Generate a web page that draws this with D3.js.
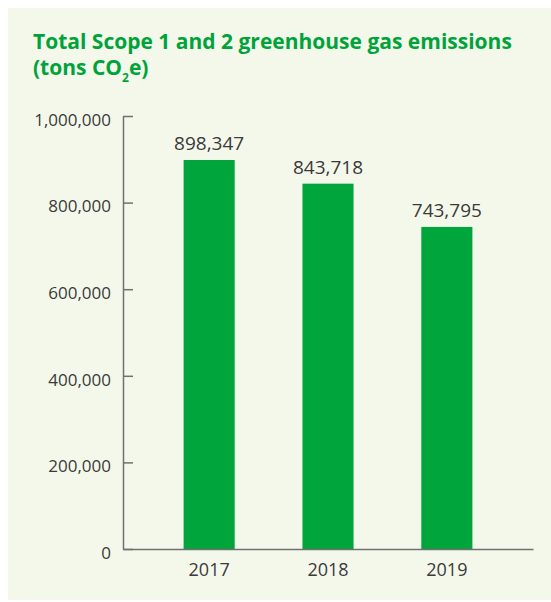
<!DOCTYPE html>
<html>
<head>
<meta charset="utf-8">
<script src="https://cdn.jsdelivr.net/npm/d3@7"></script>
<style>
  body { margin: 0; background: #ffffff; }
  svg text { font-family: "Open Sans", sans-serif; }
</style>
</head>
<body>
<svg id="chart" width="551" height="602"></svg>

<script>
// chart values
var years = ["2017", "2018", "2019"]
var emissions = [898347, 843718, 743795]
var yTicks = [0, 200000, 400000, 600000, 800000, 1000000]

var svg = d3.select("#chart")

// light green panel behind everything
svg.append("rect")
	.attr("x", 8)
	.attr("y", 8)
	.attr("width", 551 - 8)
	.attr("height", 600 - 8)
	.attr("fill", "#f4f8eb")

// title, two lines, with a subscript 2
var title = svg.append("text")
	.attr("fill", "#00a33a")
	.style("font-weight", "bold")
	.style("font-size", "21px")
title.append("tspan").attr("x", 33).attr("y", 49)
	.text("Total Scope 1 and 2 greenhouse gas emissions")
var line2 = svg.append("text")
	.attr("x", 33)
	.attr("y", 75)
	.attr("fill", "#00a33a")
	.style("font-weight", "bold")
	.style("font-size", "21px")
line2.append("tspan").text("(tons CO")
line2.append("tspan").attr("dy", 7).style("font-size", "12px").text("2")
line2.append("tspan").attr("dy", -7).text("e)")

var x0 = 123, x1 = 533, yBase = 549, yTop = 116

var y = d3.scaleLinear()
	.domain([0, 1000000])
	.range([yBase, yTop])

var x = d3.scaleBand()
	.domain(years)
	.range([x0, x1])
	.paddingInner(0.57)
	.paddingOuter(0.51)

// y axis, ticks point into the plot
var yAxis = svg.append("g")
	.attr("transform", "translate(" + x0 + ",0)")
	.call(d3.axisLeft(y).tickValues(yTicks).tickSizeInner(-10).tickSizeOuter(0)
		.tickPadding(12).tickFormat(d3.format(",")))
yAxis.select(".domain").attr("stroke", "#707070").attr("stroke-width", 1.5)
yAxis.selectAll(".tick line").attr("stroke", "#707070").attr("stroke-width", 1.5)
yAxis.selectAll(".tick text")
	.attr("fill", "#3a3a3a")
	.attr("dy", "0.55em")
	.style("font-size", "17px")
	.style("font-family", "'Open Sans', sans-serif")

// bars
svg.selectAll("rect.bar")
	.data(emissions)
	.enter()
	.append("rect")
	.attr("class", "bar")
	.attr("x", function(d, i) { return x(years[i]) })
	.attr("y", function(d) { return y(d) })
	.attr("width", x.bandwidth())
	.attr("height", function(d) { return yBase - y(d) })
	.attr("fill", "#00a53b")

// x axis, just a line plus year labels
var xAxis = svg.append("g")
	.attr("transform", "translate(0," + yBase + ")")
	.call(d3.axisBottom(x).tickSize(0).tickPadding(10))
xAxis.select(".domain").attr("stroke", "#707070").attr("stroke-width", 1.5)
xAxis.selectAll(".tick text")
	.attr("fill", "#3a3a3a")
	.attr("dy", "0.95em")
	.style("font-size", "18px")
	.style("font-family", "'Open Sans', sans-serif")

// value labels above bars
svg.selectAll("text.value")
	.data(emissions)
	.enter()
	.append("text")
	.attr("class", "value")
	.attr("x", function(d, i) { return x(years[i]) + x.bandwidth() / 2 })
	.attr("y", function(d) { return y(d) - 10 })
	.attr("text-anchor", "middle")
	.attr("fill", "#3a3a3a")
	.style("font-size", "19px")
	.text(function(d) { return d3.format(",")(d) })
</script>
</body>
</html>
